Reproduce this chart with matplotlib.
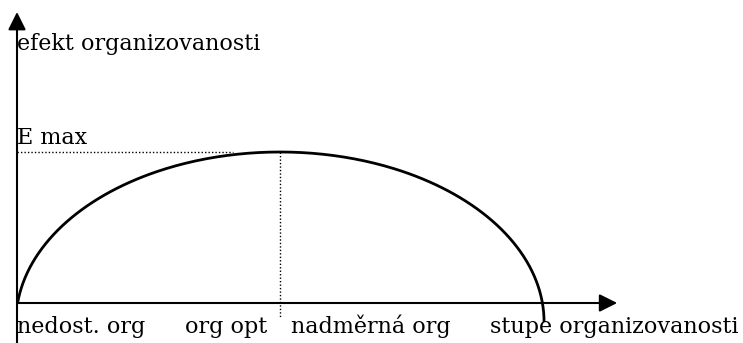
import numpy as np
import matplotlib
matplotlib.use("Agg")
import matplotlib.pyplot as plt

# data (diagram units: x = stupen organizovanosti, y = efekt)
org_opt = 50.0          # optimum organizovanosti
e_max = 1.0             # maximalni efekt
curve_center = (50.0, -0.126)
curve_halfwidth = 50.2
curve_halfheight = 1.126
curve_theta = (0.0, 173.6)   # usek elipsy ve stupnich
emax_line_end = 41.1
opt_line_bottom = -0.093
x_axis_end = 114.1
y_axis_end = 1.927

y_label = "efekt organizovanosti"
emax_label = "E max"
x_labels = ["nedost. org", "org opt", "nadměrná org", "stupe organizovanosti"]
x_label_pos = [0.0, 31.9, 52.1, 89.9]

# figure ~743x343 px
fig = plt.figure(figsize=(7.43, 3.43), dpi=100)
ax = fig.add_axes([0, 0, 1, 1])
ax.set_xlim(-3.232, 138.02)
ax.set_ylim(-0.2649, 2.0066)
ax.axis("off")

font = {"family": ["DejaVu Serif"], "size": 16}

# osy se sipkami
arr = dict(arrowstyle="-|>,head_length=0.54,head_width=0.27", lw=1.5,
           color="black", shrinkA=0, shrinkB=0, mutation_scale=20)
ax.annotate("", xy=(0, y_axis_end), xytext=(0, -0.2649), arrowprops=arr)
ax.annotate("", xy=(x_axis_end, 0), xytext=(0, 0), arrowprops=arr)

# krivka - usek elipsy
t = np.radians(np.linspace(curve_theta[0], curve_theta[1], 300))
cx = curve_center[0] + curve_halfwidth * np.cos(t)
cy = curve_center[1] + curve_halfheight * np.sin(t)
ax.plot(cx, cy, color="black", lw=2.0, solid_capstyle="butt")

# teckovane cary
ax.plot([0, emax_line_end], [e_max, e_max], color="black", lw=1.0,
        linestyle=(0, (1, 1.5)))
ax.plot([org_opt, org_opt], [e_max, opt_line_bottom], color="black", lw=1.0,
        linestyle=(0, (1, 1.5)))

# popisky
ax.text(0, (303 - 50) / 151, y_label, ha="left", va="baseline", fontdict=font)
ax.text(0, (303 - 144) / 151, emax_label, ha="left", va="baseline", fontdict=font)
for lab, xp in zip(x_labels, x_label_pos):
    ax.text(xp, (303 - 333) / 151, lab, ha="left", va="baseline", fontdict=font)

fig.savefig("out.png", dpi=100)
